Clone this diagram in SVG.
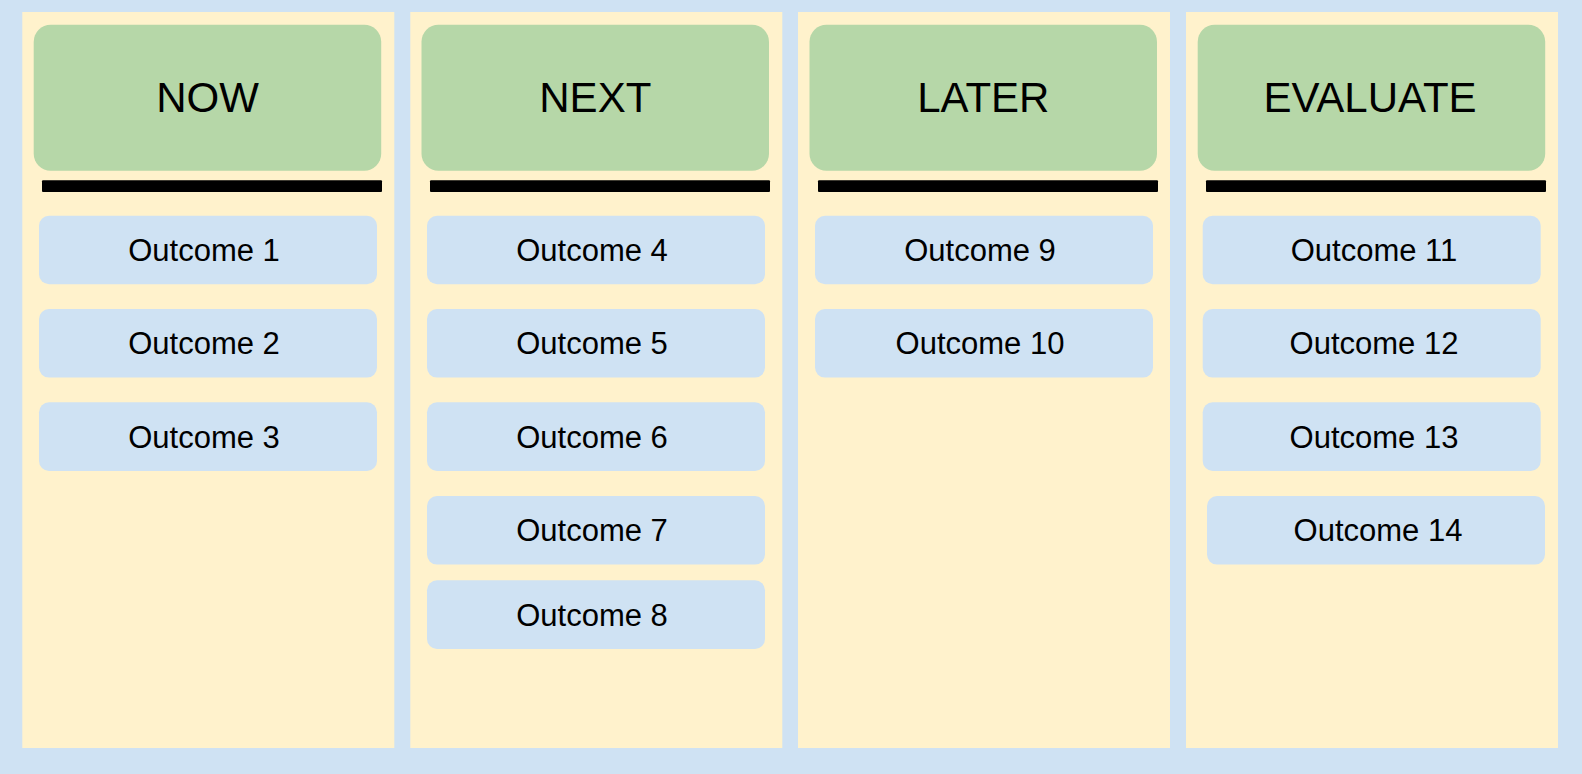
<svg xmlns="http://www.w3.org/2000/svg" width="1582" height="774" viewBox="0 0 1582 774">
<style>
.bg{fill:#cfe2f3}
.col{fill:#fff2cc}
.hdr{fill:#b6d7a8}
.bar{fill:#000000}
.card{fill:#cfe2f3}
.ht{font-family:"Liberation Sans",Arial,sans-serif;font-size:42px;fill:#000;text-anchor:middle}
.ct{font-family:"Liberation Sans",Arial,sans-serif;font-size:31px;fill:#000;text-anchor:middle}
</style>
<rect class="bg" x="0" y="0" width="1582" height="774"/>
<g id="column-now">
<rect class="col" x="22.3" y="12" width="372" height="736"/>
<rect class="hdr" x="33.7" y="24.7" width="347.5" height="146" rx="17"/>
<text class="ht" x="207.5" y="112.3">NOW</text>
<rect class="bar" x="42" y="180.3" width="340" height="11.7" rx="1"/>
</g>
<g id="column-next">
<rect class="col" x="410.3" y="12" width="372" height="736"/>
<rect class="hdr" x="421.5" y="24.7" width="347.5" height="146" rx="17"/>
<text class="ht" x="595.3" y="112.3">NEXT</text>
<rect class="bar" x="430" y="180.3" width="340" height="11.7" rx="1"/>
</g>
<g id="column-later">
<rect class="col" x="798" y="12" width="372" height="736"/>
<rect class="hdr" x="809.5" y="24.7" width="347.5" height="146" rx="17"/>
<text class="ht" x="983.3" y="112.3">LATER</text>
<rect class="bar" x="818" y="180.3" width="340" height="11.7" rx="1"/>
</g>
<g id="column-evaluate">
<rect class="col" x="1186" y="12" width="372" height="736"/>
<rect class="hdr" x="1197.7" y="24.7" width="347.5" height="146" rx="17"/>
<text class="ht" x="1370" y="112.3">EVALUATE</text>
<rect class="bar" x="1206" y="180.3" width="340" height="11.7" rx="1"/>
</g>
<g id="outcome-1"><rect class="card" x="39" y="215.7" width="338" height="68.6" rx="10"/><text class="ct" x="204" y="261">Outcome 1</text></g>
<g id="outcome-2"><rect class="card" x="39" y="309" width="338" height="68.6" rx="10"/><text class="ct" x="204" y="354.3">Outcome 2</text></g>
<g id="outcome-3"><rect class="card" x="39" y="402.3" width="338" height="68.6" rx="10"/><text class="ct" x="204" y="447.6">Outcome 3</text></g>
<g id="outcome-4"><rect class="card" x="427" y="215.7" width="338" height="68.6" rx="10"/><text class="ct" x="592" y="261">Outcome 4</text></g>
<g id="outcome-5"><rect class="card" x="427" y="309" width="338" height="68.6" rx="10"/><text class="ct" x="592" y="354.3">Outcome 5</text></g>
<g id="outcome-6"><rect class="card" x="427" y="402.3" width="338" height="68.6" rx="10"/><text class="ct" x="592" y="447.6">Outcome 6</text></g>
<g id="outcome-7"><rect class="card" x="427" y="496" width="338" height="68.6" rx="10"/><text class="ct" x="592" y="541.3">Outcome 7</text></g>
<g id="outcome-8"><rect class="card" x="427" y="580.3" width="338" height="68.6" rx="10"/><text class="ct" x="592" y="625.6">Outcome 8</text></g>
<g id="outcome-9"><rect class="card" x="815" y="215.7" width="338" height="68.6" rx="10"/><text class="ct" x="980" y="261">Outcome 9</text></g>
<g id="outcome-10"><rect class="card" x="815" y="309" width="338" height="68.6" rx="10"/><text class="ct" x="980" y="354.3">Outcome 10</text></g>
<g id="outcome-11"><rect class="card" x="1202.7" y="215.7" width="338" height="68.6" rx="10"/><text class="ct" x="1374" y="261">Outcome 11</text></g>
<g id="outcome-12"><rect class="card" x="1202.7" y="309" width="338" height="68.6" rx="10"/><text class="ct" x="1374" y="354.3">Outcome 12</text></g>
<g id="outcome-13"><rect class="card" x="1202.7" y="402.3" width="338" height="68.6" rx="10"/><text class="ct" x="1374" y="447.6">Outcome 13</text></g>
<g id="outcome-14"><rect class="card" x="1207" y="496" width="338" height="68.6" rx="10"/><text class="ct" x="1378" y="541.3">Outcome 14</text></g>
<g id="connectors"></g>
</svg>
